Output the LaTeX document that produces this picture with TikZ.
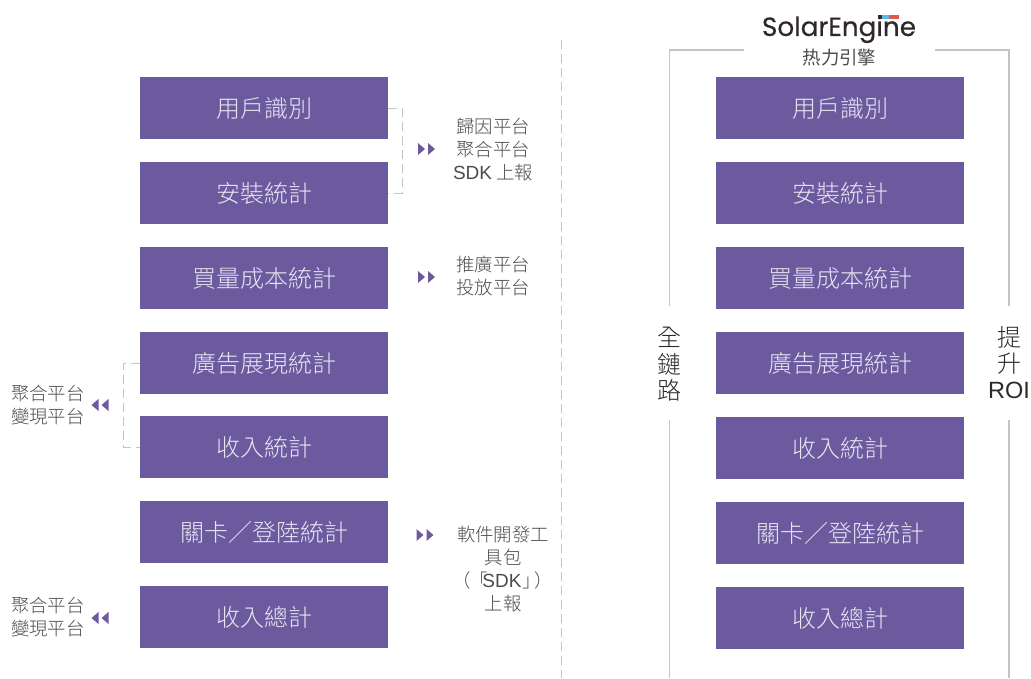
\documentclass[tikz,border=0pt]{standalone}
\usepackage{fontspec}
\setmainfont{Liberation Sans}
\newfontfamily\cjk{Noto Sans CJK TC Light}
\newfontfamily\logofont[FakeBold=0.45]{Poppins}
\newfontfamily\subfont{Noto Sans CJK TC}
\definecolor{boxc}{HTML}{6B5B9E}
\definecolor{txtc}{HTML}{4E4A48}
\definecolor{darkc}{HTML}{2E2826}
\definecolor{linec}{HTML}{C4C4C4}
\definecolor{boxtxt}{HTML}{E8E4F2}
\definecolor{logoblue}{HTML}{5BB9E2}
\definecolor{logored}{HTML}{E0594C}
\tikzset{
 bar/.style={fill=boxc,draw=none,minimum width=248pt,minimum height=62pt,inner sep=0pt,
   text=boxtxt,font=\fontsize{24}{24}\cjk},
 side/.style={text=txtc,align=center,inner sep=0pt,font=\fontsize{18.4}{23}\cjk},
 big/.style={text=darkc,inner sep=0pt,font=\fontsize{24}{24}\cjk},
 bracket/.style={draw=linec,line width=1pt,dash pattern=on 9pt off 5pt},
 frame/.style={draw=linec,line width=1.4pt},
 tri/.style={fill=boxc,draw=none}
}
\newcommand{\rtri}[2]{\fill[tri] (#1,#2-6) -- (#1+7,#2) -- (#1,#2+6) -- cycle;\fill[tri] (#1+10,#2-6) -- (#1+17,#2) -- (#1+10,#2+6) -- cycle;}
\newcommand{\ltri}[2]{\fill[tri] (#1+7,#2-6) -- (#1,#2) -- (#1+7,#2+6) -- cycle;\fill[tri] (#1+17,#2-6) -- (#1+10,#2) -- (#1+17,#2+6) -- cycle;}
\newcommand{\sdk}{{\fontspec{Liberation Sans}\fontsize{19}{23}\selectfont\color{txtc}SDK}}
\begin{document}
\begin{tikzpicture}[x=1pt,y=-1pt]
\useasboundingbox (0,0) rectangle (1031,678);
% left column
\node[bar] (l1) at (264,108) {\raisebox{0.6pt}{用戶識別}};
\node[bar] (l2) at (264,193) {\raisebox{0.6pt}{安裝統計}};
\node[bar] (l3) at (264,278) {\raisebox{0.6pt}{買量成本統計}};
\node[bar] (l4) at (264,363) {\raisebox{0.6pt}{廣告展現統計}};
\node[bar] (l5) at (264,447) {\raisebox{0.6pt}{收入統計}};
\node[bar] (l6) at (264,532) {\raisebox{0.6pt}{關卡／登陸統計}};
\node[bar] (l7) at (264,617) {\raisebox{0.6pt}{收入總計}};
% right column
\node[bar] (r1) at (840,108) {\raisebox{0.6pt}{用戶識別}};
\node[bar] (r2) at (840,193) {\raisebox{0.6pt}{安裝統計}};
\node[bar] (r3) at (840,278) {\raisebox{0.6pt}{買量成本統計}};
\node[bar] (r4) at (840,363) {\raisebox{0.6pt}{廣告展現統計}};
\node[bar] (r5) at (840,448) {\raisebox{0.6pt}{收入統計}};
\node[bar] (r6) at (840,533) {\raisebox{0.6pt}{關卡／登陸統計}};
\node[bar] (r7) at (840,618) {\raisebox{0.6pt}{收入總計}};
% dashed brackets
\draw[bracket] (l1.east) -- ++(14,0) |- (l2.east);
\draw[bracket] (l4.west) -- ++(-16,0) |- (l5.west);
% centre divider
\coordinate (divtop) at (561.5,40);
\coordinate (divbot) at (561.5,678);
\draw[bracket,line width=1.2pt] (divtop) -- (divbot);
% side labels
\node[side] (s1) at (493,149.5) {歸因平台\\聚合平台\\\sdk{} 上報};
\node[side] (s2) at (493,276) {推廣平台\\投放平台};
\node[side] (s3) at (48,405) {聚合平台\\變現平台};
\node[side] (s4) at (503,569.5) {軟件開發工\\具包\\\hbox{\kern-5pt（\kern-2pt「\kern-5pt\sdk\kern1pt」\kern-6pt）\kern-5pt}\\上報};
\node[side] (s5) at (48,617) {聚合平台\\變現平台};
\rtri{418}{149}
\rtri{418}{277}
\rtri{416.5}{535}
\ltri{91.5}{405}
\ltri{91.5}{618}
% outer frame
\node[big] (q1) at (669.5,337.5) {全};
\node[big] (q2) at (669.5,364) {鏈};
\node[big] (q3) at (669.5,390) {路};
\node[big] (p1) at (1009,337.5) {提};
\node[big] (p2) at (1009,364) {升};
\node[big,font=\fontsize{23.5}{24}\selectfont] (p3) at (1009,390) {ROI};
\coordinate (ltop) at (744,50);
\coordinate (lcorner) at (669.5,50);
\coordinate (lmid) at (669.5,306);
\coordinate (lmid2) at (669.5,420);
\coordinate (rtop) at (935,50);
\coordinate (rcorner) at (1009,50);
\coordinate (rmid) at (1009,306);
\coordinate (rmid2) at (1009,420);
\coordinate (lend) at (669.5,678);
\coordinate (rend) at (1009,678);
\draw[frame] (ltop) -- (lcorner) -- (lmid);
\draw[frame] (rtop) -- (rcorner) -- (rmid);
\draw[frame] (lmid2) -- (lend);
\draw[frame] (rmid2) -- (rend);
% logo
\node[inner sep=0pt,text=darkc,font=\fontsize{26.3}{28}\logofont] (logo) at (839,29.5) {SolarEngine};
\fill[darkc] (878,15) rectangle (882,19);
\fill[logoblue] (882,15) rectangle (889,19);
\fill[logored] (889,15) rectangle (899,19);
\node[text=txtc,inner sep=0pt,font=\fontsize{18.4}{18}\subfont] (sub) at (839.5,58) {热力引擎};
\end{tikzpicture}
\end{document}
